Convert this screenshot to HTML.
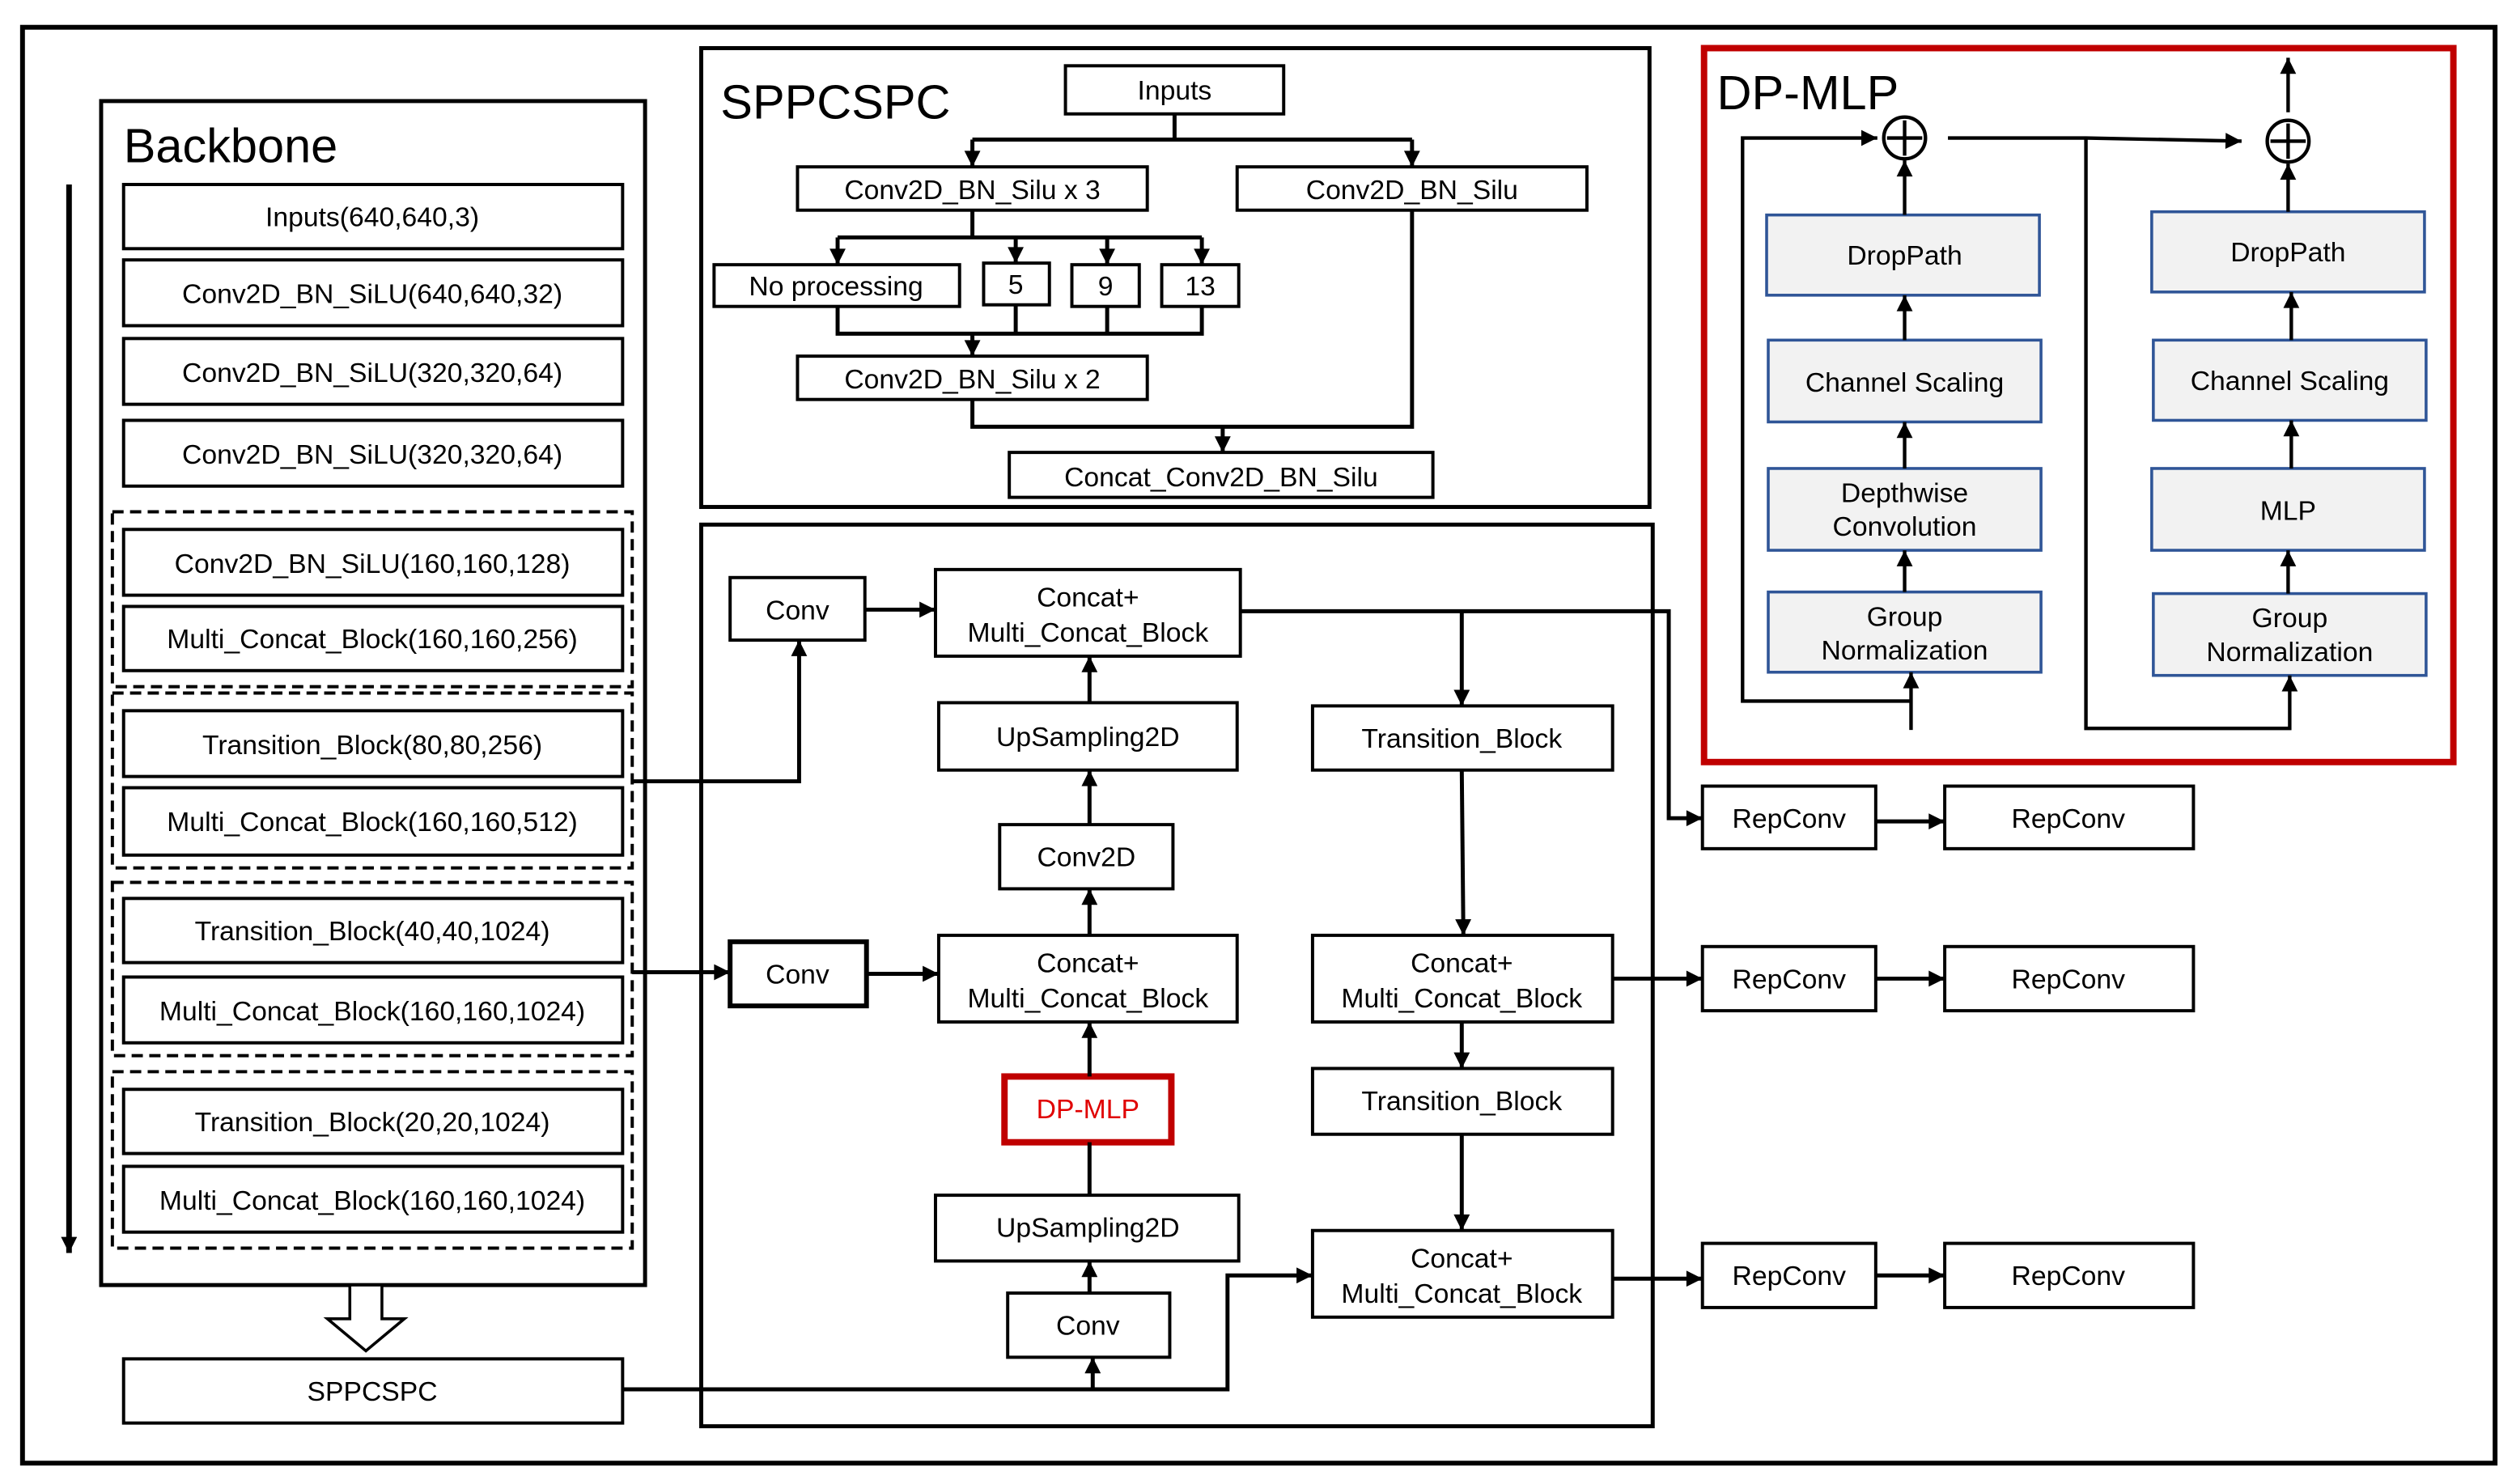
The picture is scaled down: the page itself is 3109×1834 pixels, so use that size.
<!DOCTYPE html>
<html><head><meta charset="utf-8"><style>
html,body{margin:0;padding:0;background:#fff;}
svg{display:block}
text{font-family:"Liberation Sans",sans-serif;fill:#000}
.n{font-family:"Liberation Sans Narrow","Liberation Sans",sans-serif}
</style></head><body>
<svg width="3109" height="1834" viewBox="0 0 1568 925" xmlns="http://www.w3.org/2000/svg">
<defs>
<marker id="a" viewBox="0 0 10 10" refX="10" refY="5" markerWidth="11" markerHeight="10" markerUnits="userSpaceOnUse" orient="auto"><path d="M0,0L10,5L0,10z" fill="#000"/></marker>
</defs>
<rect x="0" y="0" width="1568" height="925" fill="#fff"/>
<rect x="14" y="17" width="1541" height="895" fill="none" stroke="#000" stroke-width="3"/>

<!-- Backbone -->
<rect x="63" y="63" width="339" height="738" fill="none" stroke="#000" stroke-width="2.5"/>
<text x="77" y="101" font-size="30">Backbone</text>
<line x1="43" y1="115" x2="43" y2="781" stroke="#000" stroke-width="3.5" marker-end="url(#a)"/>
<g fill="#fff" stroke="#000" stroke-width="2">
<rect x="77" y="115" width="311" height="40"/>
<rect x="77" y="162" width="311" height="41"/>
<rect x="77" y="211" width="311" height="41"/>
<rect x="77" y="262" width="311" height="41"/>
<rect x="77" y="330" width="311" height="41"/>
<rect x="77" y="378" width="311" height="40"/>
<rect x="77" y="443" width="311" height="41"/>
<rect x="77" y="491" width="311" height="42"/>
<rect x="77" y="560" width="311" height="40"/>
<rect x="77" y="609" width="311" height="41"/>
<rect x="77" y="679" width="311" height="40"/>
<rect x="77" y="727" width="311" height="41"/>
<rect x="77" y="847" width="311" height="40"/>
</g>
<g fill="none" stroke="#000" stroke-width="2" stroke-dasharray="7,4">
<rect x="70" y="319" width="324" height="109"/>
<rect x="70" y="432" width="324" height="109"/>
<rect x="70" y="550" width="324" height="108"/>
<rect x="70" y="668" width="324" height="110"/>
</g>
<g font-size="17" text-anchor="middle">
<text x="232" y="141">Inputs(640,640,3)</text>
<text x="232" y="189">Conv2D_BN_SiLU(640,640,32)</text>
<text x="232" y="238">Conv2D_BN_SiLU(320,320,64)</text>
<text x="232" y="289">Conv2D_BN_SiLU(320,320,64)</text>
<text x="232" y="357">Conv2D_BN_SiLU(160,160,128)</text>
<text x="232" y="404">Multi_Concat_Block(160,160,256)</text>
<text x="232" y="470">Transition_Block(80,80,256)</text>
<text x="232" y="518">Multi_Concat_Block(160,160,512)</text>
<text x="232" y="586">Transition_Block(40,40,1024)</text>
<text x="232" y="636">Multi_Concat_Block(160,160,1024)</text>
<text x="232" y="705">Transition_Block(20,20,1024)</text>
<text x="232" y="754">Multi_Concat_Block(160,160,1024)</text>
<text x="232" y="873">SPPCSPC</text>
</g>
<path d="M218,801 L238,801 L238,822 L252,822 L228,842 L204,822 L218,822 Z" fill="#fff" stroke="#000" stroke-width="1.8"/>

<!-- SPPCSPC panel -->
<rect x="437" y="30" width="591" height="286" fill="none" stroke="#000" stroke-width="2.5"/>
<text x="449" y="74" font-size="30" class="n">SPPCSPC</text>
<g fill="#fff" stroke="#000" stroke-width="2">
<rect x="664" y="41" width="136" height="30"/>
<rect x="497" y="104" width="218" height="27"/>
<rect x="771" y="104" width="218" height="27"/>
<rect x="445" y="165" width="153" height="26"/>
<rect x="613" y="164" width="41" height="26"/>
<rect x="668" y="165" width="42" height="26"/>
<rect x="724" y="165" width="48" height="26"/>
<rect x="497" y="222" width="218" height="27"/>
<rect x="629" y="282" width="264" height="28"/>
</g>
<g font-size="17" text-anchor="middle" class="n">
<text x="732" y="62">Inputs</text>
<text x="606" y="124">Conv2D_BN_Silu x 3</text>
<text x="880" y="124">Conv2D_BN_Silu</text>
<text x="521" y="184">No processing</text>
<text x="633" y="183">5</text>
<text x="689" y="184">9</text>
<text x="748" y="184">13</text>
<text x="606" y="242">Conv2D_BN_Silu x 2</text>
<text x="761" y="303">Concat_Conv2D_BN_Silu</text>
</g>
<g fill="none" stroke="#000" stroke-width="2.5">
<path d="M732,71V87M606,87H880"/>
<line x1="606" y1="87" x2="606" y2="104" marker-end="url(#a)"/>
<line x1="880" y1="87" x2="880" y2="104" marker-end="url(#a)"/>
<path d="M606,131V148M522,148H749"/>
<line x1="522" y1="148" x2="522" y2="165" marker-end="url(#a)"/>
<line x1="633" y1="148" x2="633" y2="164" marker-end="url(#a)"/>
<line x1="690" y1="148" x2="690" y2="165" marker-end="url(#a)"/>
<line x1="749" y1="148" x2="749" y2="165" marker-end="url(#a)"/>
<path d="M522,191V208H749V191M633,190V208M690,191V208"/>
<line x1="606" y1="208" x2="606" y2="222" marker-end="url(#a)"/>
<path d="M606,249V266H880V131"/>
<line x1="762" y1="266" x2="762" y2="282" marker-end="url(#a)"/>
</g>

<!-- Neck panel -->
<rect x="437" y="327" width="593" height="562" fill="none" stroke="#000" stroke-width="2.5"/>
<g fill="#fff" stroke="#000" stroke-width="2">
<rect x="455" y="360" width="84" height="39"/>
<rect x="583" y="355" width="190" height="54"/>
<rect x="585" y="438" width="186" height="42"/>
<rect x="623" y="514" width="108" height="40"/>
<rect x="585" y="583" width="186" height="54"/>
<rect x="455" y="587" width="85" height="40" stroke-width="3"/>
<rect x="583" y="745" width="189" height="41"/>
<rect x="628" y="806" width="101" height="40"/>
<rect x="818" y="440" width="187" height="40"/>
<rect x="818" y="583" width="187" height="54"/>
<rect x="818" y="666" width="187" height="41"/>
<rect x="818" y="767" width="187" height="54"/>
<rect x="1061" y="490" width="108" height="39"/>
<rect x="1212" y="490" width="155" height="39"/>
<rect x="1061" y="590" width="108" height="40"/>
<rect x="1212" y="590" width="155" height="40"/>
<rect x="1061" y="775" width="108" height="40"/>
<rect x="1212" y="775" width="155" height="40"/>
</g>
<rect x="626" y="671" width="104" height="41" fill="#fff" stroke="#c00000" stroke-width="4"/>
<g font-size="17" text-anchor="middle" class="n">
<text x="497" y="386">Conv</text>
<text x="678" y="378">Concat+</text>
<text x="678" y="400">Multi_Concat_Block</text>
<text x="678" y="465">UpSampling2D</text>
<text x="677" y="540">Conv2D</text>
<text x="678" y="606">Concat+</text>
<text x="678" y="628">Multi_Concat_Block</text>
<text x="497" y="613">Conv</text>
<text x="678" y="697" style="fill:#e00000">DP-MLP</text>
<text x="678" y="771">UpSampling2D</text>
<text x="678" y="832">Conv</text>
<text x="911" y="466">Transition_Block</text>
<text x="911" y="606">Concat+</text>
<text x="911" y="628">Multi_Concat_Block</text>
<text x="911" y="692">Transition_Block</text>
<text x="911" y="790">Concat+</text>
<text x="911" y="812">Multi_Concat_Block</text>
<text x="1115" y="516">RepConv</text>
<text x="1289" y="516">RepConv</text>
<text x="1115" y="616">RepConv</text>
<text x="1289" y="616">RepConv</text>
<text x="1115" y="801">RepConv</text>
<text x="1289" y="801">RepConv</text>
</g>
<g fill="none" stroke="#000" stroke-width="2.5">
<line x1="539" y1="380" x2="583" y2="380" marker-end="url(#a)"/>
<polyline points="394,487 498,487 498,399" marker-end="url(#a)"/>
<line x1="679" y1="438" x2="679" y2="409" marker-end="url(#a)"/>
<line x1="679" y1="514" x2="679" y2="480" marker-end="url(#a)"/>
<line x1="679" y1="583" x2="679" y2="554" marker-end="url(#a)"/>
<line x1="394" y1="606" x2="455" y2="606" marker-end="url(#a)"/>
<line x1="540" y1="607" x2="585" y2="607" marker-end="url(#a)"/>
<line x1="679" y1="671" x2="679" y2="637" marker-end="url(#a)"/>
<line x1="679" y1="745" x2="679" y2="712"/>
<line x1="679" y1="806" x2="679" y2="786" marker-end="url(#a)"/>
<polyline points="388,866 765,866 765,795 818,795" marker-end="url(#a)"/>
<line x1="681" y1="866" x2="681" y2="846" marker-end="url(#a)"/>
<polyline points="773,381 1040,381 1040,510 1061,510" marker-end="url(#a)"/>
<line x1="911" y1="381" x2="911" y2="440" marker-end="url(#a)"/>
<line x1="911" y1="480" x2="912" y2="583" marker-end="url(#a)"/>
<line x1="1005" y1="610" x2="1061" y2="610" marker-end="url(#a)"/>
<line x1="911" y1="637" x2="911" y2="666" marker-end="url(#a)"/>
<line x1="911" y1="707" x2="911" y2="767" marker-end="url(#a)"/>
<line x1="1005" y1="797" x2="1061" y2="797" marker-end="url(#a)"/>
<line x1="1169" y1="512" x2="1212" y2="512" marker-end="url(#a)"/>
<line x1="1169" y1="610" x2="1212" y2="610" marker-end="url(#a)"/>
<line x1="1169" y1="795" x2="1212" y2="795" marker-end="url(#a)"/>
</g>

<!-- DP-MLP panel -->
<rect x="1062" y="30" width="467" height="445" fill="none" stroke="#c00000" stroke-width="4"/>
<text x="1070" y="68" font-size="30">DP-MLP</text>
<g fill="#f2f2f2" stroke="#2f5597" stroke-width="1.8">
<rect x="1101" y="134" width="170" height="50"/>
<rect x="1102" y="212" width="170" height="51"/>
<rect x="1102" y="292" width="170" height="51"/>
<rect x="1102" y="369" width="170" height="50"/>
<rect x="1341" y="132" width="170" height="50"/>
<rect x="1342" y="212" width="170" height="50"/>
<rect x="1341" y="292" width="170" height="51"/>
<rect x="1342" y="370" width="170" height="51"/>
</g>
<g font-size="17" text-anchor="middle">
<text x="1187" y="165">DropPath</text>
<text x="1187" y="244">Channel Scaling</text>
<text x="1187" y="313">Depthwise</text>
<text x="1187" y="334">Convolution</text>
<text x="1187" y="390">Group</text>
<text x="1187" y="411">Normalization</text>
<text x="1426" y="163">DropPath</text>
<text x="1427" y="243">Channel Scaling</text>
<text x="1426" y="324">MLP</text>
<text x="1427" y="391">Group</text>
<text x="1427" y="412">Normalization</text>
</g>
<g fill="none" stroke="#000" stroke-width="2.2">
<circle cx="1187" cy="86" r="13"/>
<path d="M1187,75V97M1176,86H1198"/>
<circle cx="1426" cy="88" r="13"/>
<path d="M1426,77V99M1415,88H1437"/>
<line x1="1187" y1="134" x2="1187" y2="100" marker-end="url(#a)"/>
<line x1="1187" y1="212" x2="1187" y2="184" marker-end="url(#a)"/>
<line x1="1187" y1="292" x2="1187" y2="263" marker-end="url(#a)"/>
<line x1="1187" y1="369" x2="1187" y2="343" marker-end="url(#a)"/>
<line x1="1191" y1="455" x2="1191" y2="419" marker-end="url(#a)"/>
<polyline points="1191,437 1086,437 1086,86 1170,86" marker-end="url(#a)"/>
<polyline points="1214,86 1300,86 1397,88" marker-end="url(#a)"/>
<polyline points="1300,86 1300,454 1427,454 1427,421" marker-end="url(#a)"/>
<line x1="1426" y1="132" x2="1426" y2="102" marker-end="url(#a)"/>
<line x1="1428" y1="212" x2="1428" y2="182" marker-end="url(#a)"/>
<line x1="1428" y1="292" x2="1428" y2="262" marker-end="url(#a)"/>
<line x1="1426" y1="370" x2="1426" y2="343" marker-end="url(#a)"/>
<line x1="1426" y1="70" x2="1426" y2="36" marker-end="url(#a)"/>
</g>
</svg>
</body></html>
